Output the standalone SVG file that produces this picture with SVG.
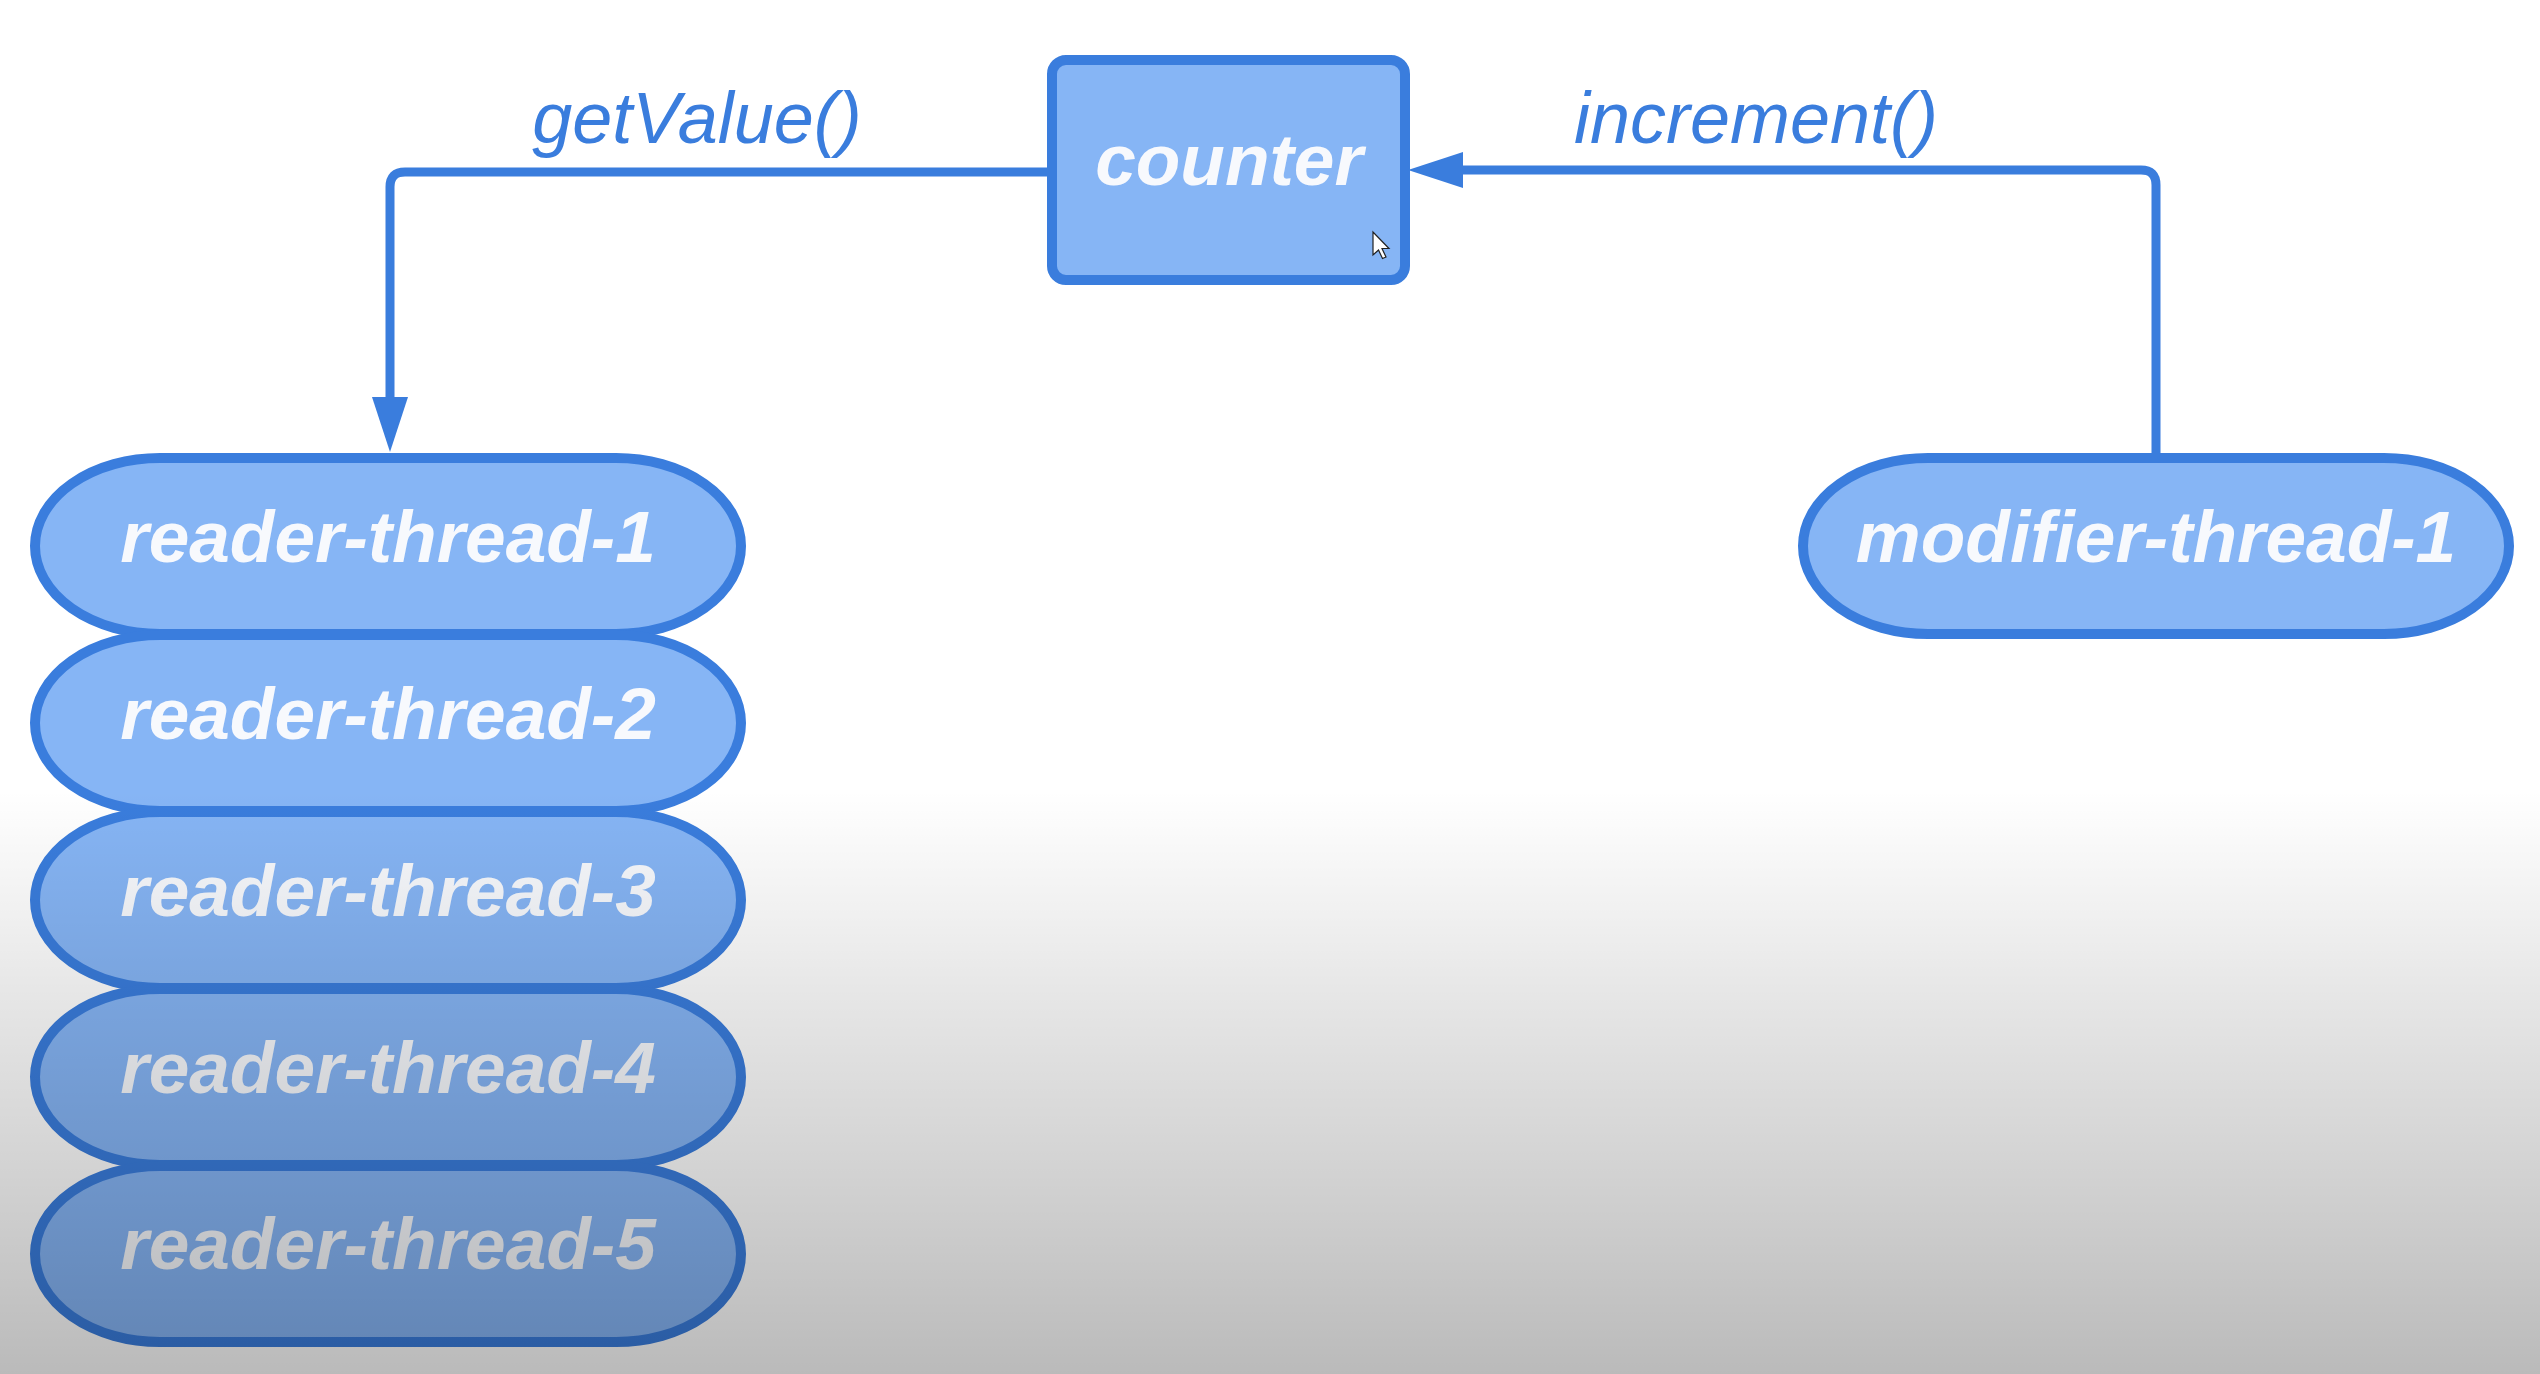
<svg xmlns="http://www.w3.org/2000/svg" width="2540" height="1374" viewBox="0 0 2540 1374">
  <defs>
    <style>
      .node { fill: #86b5f5; stroke: #3a7ddd; stroke-width: 10; }
      .ntext { font-family: "Liberation Sans", Arial, sans-serif; font-weight: bold; font-style: italic; font-size: 73px; fill: #f7f9fd; text-anchor: middle; }
      .conn { fill: none; stroke: #3a7ddd; stroke-width: 9; }
      .ltext { font-family: "Liberation Sans", Arial, sans-serif; font-style: italic; font-size: 72px; fill: #3a7ddd; text-anchor: middle; }
    </style>
    <marker id="arrow" markerUnits="userSpaceOnUse" markerWidth="56" markerHeight="36" refX="0" refY="18" orient="auto" overflow="visible">
      <path d="M0,0 L55,18 L0,36 Z" fill="#3a7ddd"/>
    </marker>
    <linearGradient id="shade" gradientUnits="userSpaceOnUse" x1="0" y1="790" x2="0" y2="1374">
      <stop offset="0" stop-color="#000" stop-opacity="0"/>
      <stop offset="0.36" stop-color="#000" stop-opacity="0.1"/>
      <stop offset="0.67" stop-color="#000" stop-opacity="0.18"/>
      <stop offset="1" stop-color="#000" stop-opacity="0.27"/>
    </linearGradient>
  </defs>
  <rect x="0" y="0" width="2540" height="1374" fill="#ffffff"/>

  <g id="connectors">
    <path class="conn" d="M1047,172 H405 Q390,172 390,187 V397" marker-end="url(#arrow)"/>
    <path class="conn" d="M2156,453 V185 Q2156,170 2141,170 H1463" marker-end="url(#arrow)"/>
    <text class="ltext" x="697" y="143">getValue()</text>
    <text class="ltext" x="1756" y="143">increment()</text>
  </g>

  <g id="counter">
    <rect class="node" x="1052" y="60" width="353" height="220" rx="14" ry="14"/>
    <text class="ntext" x="1229" y="185">counter</text>
  </g>

  <g id="reader-thread-1">
    <rect class="node" x="35" y="458" width="706" height="176" rx="125" ry="88"/>
    <text class="ntext" x="388" y="562">reader-thread-1</text>
  </g>
  <g id="reader-thread-2">
    <rect class="node" x="35" y="635" width="706" height="176" rx="125" ry="88"/>
    <text class="ntext" x="388" y="739">reader-thread-2</text>
  </g>
  <g id="reader-thread-3">
    <rect class="node" x="35" y="812" width="706" height="176" rx="125" ry="88"/>
    <text class="ntext" x="388" y="916">reader-thread-3</text>
  </g>
  <g id="reader-thread-4">
    <rect class="node" x="35" y="989" width="706" height="176" rx="125" ry="88"/>
    <text class="ntext" x="388" y="1093">reader-thread-4</text>
  </g>
  <g id="reader-thread-5">
    <rect class="node" x="35" y="1166" width="706" height="176" rx="125" ry="88"/>
    <text class="ntext" x="388" y="1269">reader-thread-5</text>
  </g>

  <g id="modifier-thread-1">
    <rect class="node" x="1803" y="458" width="706" height="176" rx="125" ry="88"/>
    <text class="ntext" x="2156" y="562">modifier-thread-1</text>
  </g>

  <path d="M1373,232 V255 L1378.5,250 L1382.5,258.5 L1386,257 L1382,248.5 L1389,248.5 Z" fill="#ffffff" stroke="#222" stroke-width="1.2"/>

  <rect x="0" y="790" width="2540" height="584" fill="url(#shade)"/>
</svg>
